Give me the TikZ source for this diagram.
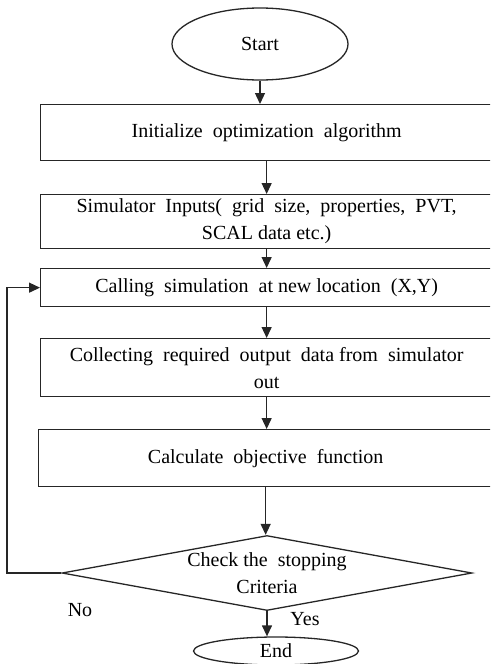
\documentclass[tikz,border=0pt]{standalone}
\usepackage{fontspec}
\setmainfont{Liberation Serif}
\usetikzlibrary{shapes.geometric,arrows.meta}

\begin{document}
\begin{tikzpicture}[x=1pt,y=-1pt,
  every node/.style={font=\fontsize{20}{27}\selectfont, text=black},
  line/.style={draw=black!85, line width=1.3pt},
  flow/.style={line, -{Triangle[length=11pt,width=10pt]}},
  stepbox/.style={line, rectangle, minimum width=452pt, inner sep=0pt, align=center, anchor=north west},
  terminal/.style={line, ellipse, inner sep=0pt},
]
\useasboundingbox (0,0) rectangle (490,664);
\clip (0,0) rectangle (490,664);

% process steps
\node[terminal, minimum width=176pt, minimum height=72pt] (start) at (260,44) {Start};
\node[stepbox, minimum height=56pt] (init) at (40,104) {Initialize~ optimization~ algorithm};
\node[stepbox, minimum height=54pt] (inputs) at (40,194) {Simulator~ Inputs(~ grid~ size,~ properties,~ PVT,\\SCAL data etc.)};
\node[stepbox, minimum height=38pt] (call) at (40,268) {Calling~ simulation~ at new location~ (X,Y)};
\node[stepbox, minimum height=58pt] (collect) at (40,338) {Collecting~ required~ output~ data from~ simulator\\out};
\node[stepbox, minimum width=454pt, minimum height=57pt] (objective) at (38,429) {Calculate~ objective~ function};
\node[line, diamond, minimum width=410pt, minimum height=75pt, inner sep=0pt,
      label={[align=center]center:Check the~ stopping\\Criteria}] (check) at (267,573) {};
\node[terminal, minimum width=165pt, minimum height=28pt] (end) at (276,651) {End};

% connectors
\draw[flow] (start.south) -- (start.south |- init.north);
\draw[flow] (init.south) -- (inputs.north);
\draw[flow] (inputs.south) -- (call.north);
\draw[flow] (call.south) -- (collect.north);
\draw[flow] (collect.south) -- (collect.south |- objective.north);
\draw[flow] (objective.south) -- (objective.south |- check.north);
\draw[flow] (check.south) -- (check.south |- end.north);
\coordinate (loop) at (7,573);
\draw[flow] (check.west) -- (loop) |- (call.west);

% branch labels
\node (no) at (80,610) {No};
\node (yes) at (305,619) {Yes};
\end{tikzpicture}
\end{document}
